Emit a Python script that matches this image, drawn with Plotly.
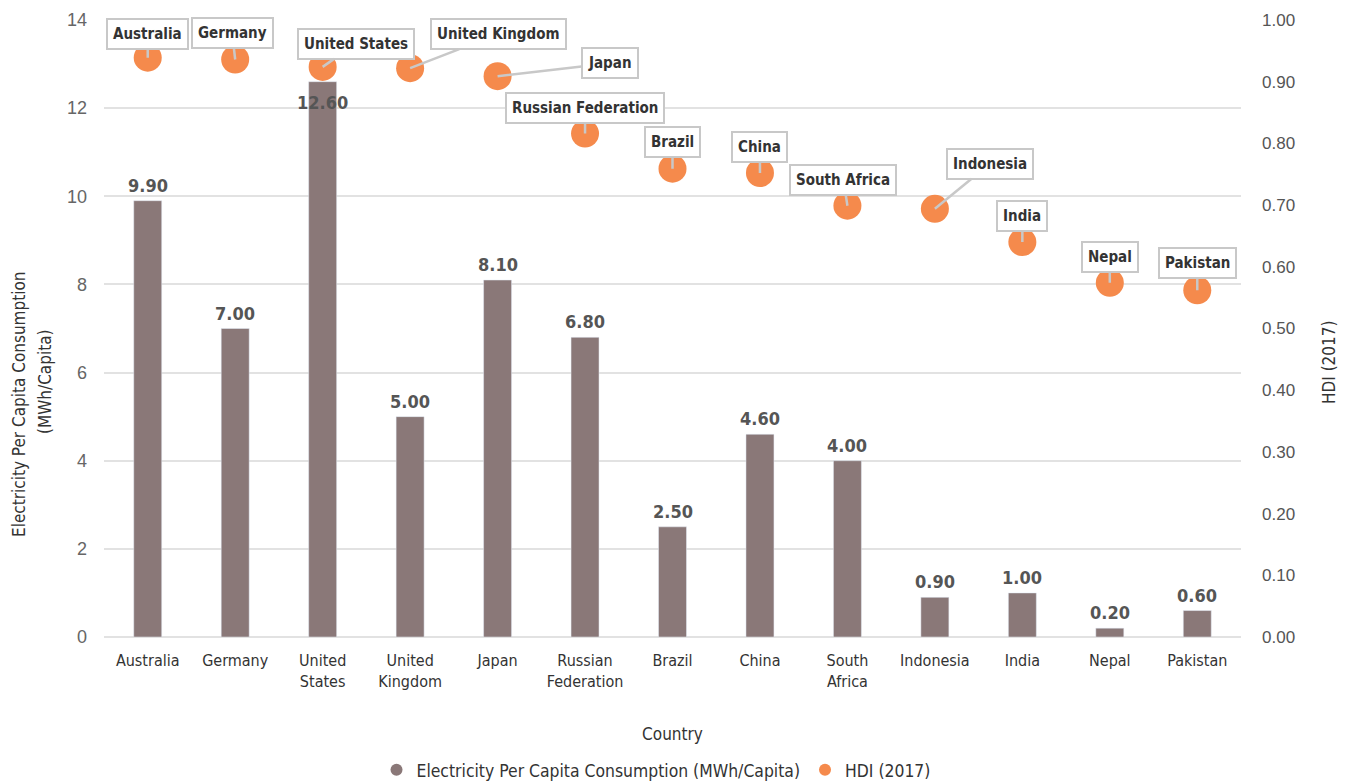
import plotly.graph_objects as go

countries = ["Australia", "Germany", "United States", "United Kingdom", "Japan",
             "Russian Federation", "Brazil", "China", "South Africa", "Indonesia",
             "India", "Nepal", "Pakistan"]
tick_labels = ["Australia", "Germany", "United<br>States", "United<br>Kingdom", "Japan",
               "Russian<br>Federation", "Brazil", "China", "South<br>Africa", "Indonesia",
               "India", "Nepal", "Pakistan"]
electricity = [9.9, 7.0, 12.6, 5.0, 8.1, 6.8, 2.5, 4.6, 4.0, 0.9, 1.0, 0.2, 0.6]
hdi = [0.939, 0.936, 0.924, 0.922, 0.909, 0.816, 0.759, 0.752, 0.699, 0.694, 0.640, 0.574, 0.562]

# callout offsets (pixels) of each country label relative to its HDI point
callout_dx = [0, -3, 33, 88, 112, 0, 0, 0, -4, 55, 0, 0, 0]
callout_dy = [-24, -26, -23, -34, -13, -26, -27, -26, -26, -45, -26, -26, -27]

BAR = "#8a7878"
DOT = "#f58a4c"
COND = "DejaVu Sans Condensed, Liberation Sans, sans-serif"
REG = "Liberation Sans, Arial, sans-serif"

W, H = 1354, 782
ML, MR, MT, MB = 104, 113, 20, 145
PW, PH = W - ML - MR, H - MT - MB


def px_to_paper(px, py):
    return (px - ML) / PW, (H - MB - py) / PH


fig = go.Figure()
fig.add_trace(go.Bar(x=countries, y=electricity, marker_color=BAR, width=0.32,
                     name="Electricity Per Capita Consumption (MWh/Capita)",
                     showlegend=False, yaxis="y"))
# legend entry with a round swatch for the bar series
fig.add_trace(go.Scatter(x=[None], y=[None], mode="markers",
                         marker=dict(color=BAR, size=16, symbol="circle"),
                         name="Electricity Per Capita Consumption (MWh/Capita)"))
fig.add_trace(go.Scatter(x=countries, y=hdi, mode="markers", yaxis="y2",
                         marker=dict(color=DOT, size=28, line=dict(width=0)),
                         name="HDI (2017)"))

annotations = []
for c, v in zip(countries, electricity):
    inside = v > 12
    annotations.append(dict(
        x=c, y=v, xref="x", yref="y", text=f"<b>{v:.2f}</b>", showarrow=False,
        yanchor="top" if inside else "bottom", yshift=-8 if inside else 3,
        font=dict(family=COND, size=18, color="#555555")))
for c, h, dx, dy in zip(countries, hdi, callout_dx, callout_dy):
    annotations.append(dict(
        x=c, y=h, xref="x", yref="y2", text=f"<b>{c}</b>", showarrow=True,
        ax=dx, ay=dy, arrowhead=0, arrowwidth=2.5, arrowcolor="#c8c8c8",
        standoff=0, bgcolor="white", bordercolor="#c8c8c8", borderwidth=2,
        borderpad=5, font=dict(family=COND, size=15, color="#333333")))

# axis titles
for text, (px, py) in [("Electricity Per Capita Consumption", (19, 404)),
                       ("(MWh/Capita)", (45, 382)),
                       ("HDI (2017)", (1329, 362))]:
    ax_, ay_ = px_to_paper(px, py)
    annotations.append(dict(x=ax_, y=ay_, xref="paper", yref="paper", text=text,
                            showarrow=False, textangle=-90, xanchor="center",
                            yanchor="middle",
                            font=dict(family=COND, size=17, color="#333333")))

fig.update_layout(
    width=W, height=H,
    margin=dict(l=ML, r=MR, t=MT, b=MB),
    plot_bgcolor="white", paper_bgcolor="white",
    annotations=annotations,
    xaxis=dict(tickmode="array", tickvals=countries, ticktext=tick_labels,
               range=[-0.5, len(countries) - 0.5],
               tickfont=dict(family=COND, size=16, color="#333333"), ticklabelstandoff=12,
               title=dict(text="Country", font=dict(family=COND, size=17, color="#333333"),
                          standoff=38),
               showline=False, ticks="", automargin=False),
    yaxis=dict(range=[0, 14], dtick=2, showgrid=True, gridcolor="#e2e2e2", gridwidth=2,
               zeroline=True, zerolinecolor="#e2e2e2", zerolinewidth=2,
               tickfont=dict(family=REG, size=18, color="#666666"), ticklabelstandoff=16,
               automargin=False),
    yaxis2=dict(range=[0, 1], dtick=0.1, tickformat=".2f", overlaying="y", side="right",
                showgrid=False, zeroline=False, automargin=False,
                tickfont=dict(family=REG, size=17, color="#555555"), ticklabelstandoff=20),
    legend=dict(orientation="h", x=0.4845, xanchor="center", xref="container",
                y=12 / H, yanchor="middle", yref="container",
                font=dict(family=COND, size=17.4, color="#333333"), itemsizing="constant"),
)

fig.write_html("out.html")
